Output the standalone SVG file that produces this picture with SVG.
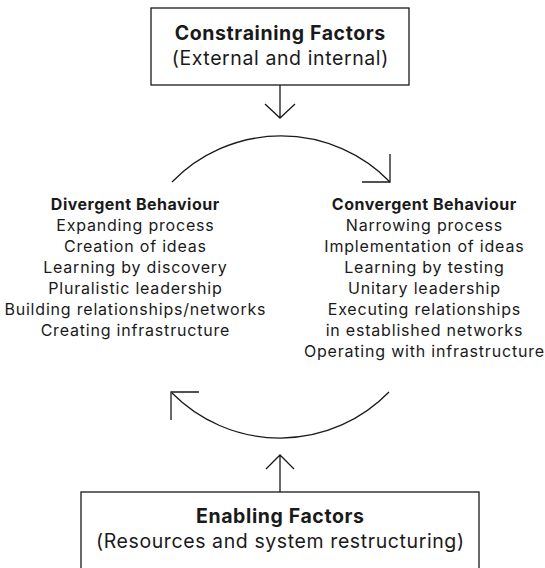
<svg xmlns="http://www.w3.org/2000/svg" width="545" height="568" viewBox="0 0 545 568">
<style>
.t{font-family:Inter,"Liberation Sans",sans-serif;fill:#1a1a1a;text-anchor:middle}
.b{font-weight:700}
.box{fill:#fff;stroke:#1a1a1a;stroke-width:1.3}
.big{font-size:19.5px;letter-spacing:0.6px}
.col{font-size:16px;letter-spacing:0.8px}
.col .b{letter-spacing:0.5px}
.ln{fill:none;stroke:#1a1a1a;stroke-width:1.3}
</style>
<rect width="545" height="568" fill="#fff"/>
<g id="constraining">
<rect class="box" x="151" y="8" width="258" height="77"/>
<text class="t b big" x="280.3" y="40">Constraining Factors</text>
<text class="t big" x="280.3" y="65">(External and internal)</text>
</g>
<g id="enabling">
<rect class="box" x="81" y="492" width="398" height="90"/>
<text class="t b big" x="280.3" y="523">Enabling Factors</text>
<text class="t big" x="280.3" y="548">(Resources and system restructuring)</text>
</g>
<g id="divergent" class="t col">
<text class="b" x="135.3" y="210">Divergent Behaviour</text>
<text x="135.4" y="231">Expanding process</text>
<text x="135.4" y="252">Creation of ideas</text>
<text x="135.4" y="273">Learning by discovery</text>
<text x="135.4" y="294">Pluralistic leadership</text>
<text x="135.4" y="315">Building relationships/networks</text>
<text x="135.4" y="336">Creating infrastructure</text>
</g>
<g id="convergent" class="t col">
<text class="b" x="424.3" y="210">Convergent Behaviour</text>
<text x="424.4" y="231">Narrowing process</text>
<text x="424.4" y="252">Implementation of ideas</text>
<text x="424.4" y="273">Learning by testing</text>
<text x="424.4" y="294">Unitary leadership</text>
<text x="424.4" y="315">Executing relationships</text>
<text x="424.4" y="336">in established networks</text>
<text x="424.4" y="357">Operating with infrastructure</text>
</g>
<g id="connectors" class="ln">
<path d="M280,85 L280,118 M265,104 L280,118 L295,104"/>
<path d="M172,182 A152,152 0 0 1 390,182"/>
<path d="M390,154 L390,182 L362,182"/>
<path d="M389,392 A152,152 0 0 1 172,393"/>
<path d="M199,392 L171,392 L171,420"/>
<path d="M280,492 L280,455 M266,469 L280,455 L294,469"/>
</g>
</svg>
